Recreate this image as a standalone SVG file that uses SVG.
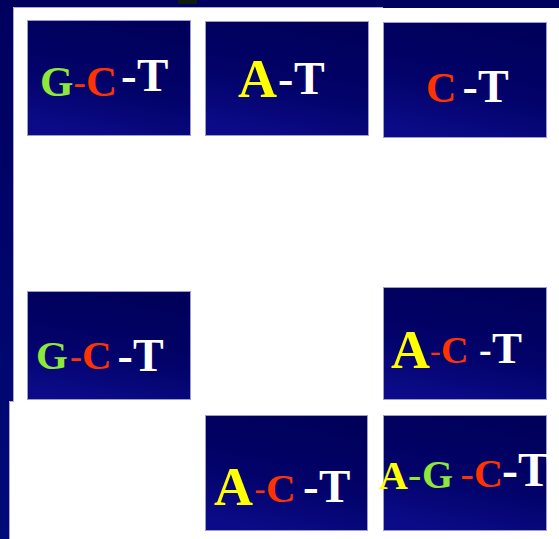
<svg xmlns="http://www.w3.org/2000/svg" width="559" height="539" viewBox="0 0 559 539">
  <defs>
    <linearGradient id="tileGrad" x1="0.65" y1="0" x2="0.35" y2="1">
      <stop offset="0" stop-color="#00005a"/>
      <stop offset="0.55" stop-color="#020269"/>
      <stop offset="1" stop-color="#0b0b88"/>
    </linearGradient>
    <linearGradient id="bgGrad" x1="0" y1="0" x2="0" y2="1">
      <stop offset="0" stop-color="#00005e"/>
      <stop offset="1" stop-color="#000a78"/>
    </linearGradient>
    <style>
      .tile { fill: url(#tileGrad); stroke: #9c9cd2; stroke-width: 1; }
      text { font-family: "Liberation Serif", "Times New Roman", serif; font-weight: bold; }
      .g { fill: #8ee83a; }
      .r { fill: #ff3300; }
      .y { fill: #ffff00; }
      .w { fill: #ffffff; }
      .thin { font-weight: normal; }
      .edge { stroke: #a8a8d8; stroke-width: 1; fill: none; }
    </style>
  </defs>

  <!-- slide background -->
  <rect x="0" y="0" width="559" height="539" fill="url(#bgGrad)"/>
  <rect x="178" y="0" width="19" height="4" fill="#0e1c0c"/>
  <polygon points="13,7 383,7 383,8 559,8 559,539 9,539 9,401 13,401" fill="#ffffff"/>
  <polyline class="edge" points="9.5,539 9.5,401.5 13.5,401.5 13.5,7.5 383,7.5"/>

  <g id="tile1">
    <rect class="tile" x="27.5" y="20.5" width="163" height="115"/>
    <text><tspan class="g" x="40" y="96" font-size="43">G</tspan><tspan class="r thin" x="73.5" y="95" font-size="37">-</tspan><tspan class="r" x="86" y="96" font-size="43">C</tspan><tspan class="w" x="121" y="91" font-size="47">-</tspan><tspan class="w" x="137" y="91" font-size="47">T</tspan></text>
  </g>

  <g id="tile2">
    <rect class="tile" x="205.5" y="21.5" width="163" height="114"/>
    <text><tspan class="y" x="238" y="97" font-size="54">A</tspan><tspan class="w" x="278" y="94" font-size="46">-</tspan><tspan class="w" x="294" y="94" font-size="46">T</tspan></text>
  </g>

  <g id="tile3">
    <rect class="tile" x="383.5" y="22.5" width="163" height="115"/>
    <text><tspan class="r" x="426" y="102" font-size="42">C</tspan><tspan class="w" x="462.5" y="102" font-size="46">-</tspan><tspan class="w" x="478" y="102" font-size="46">T</tspan></text>
  </g>

  <g id="tile4">
    <rect class="tile" x="27.5" y="291.5" width="163" height="108"/>
    <text><tspan class="g" x="36" y="369" font-size="41">G</tspan><tspan class="r thin" x="70" y="368" font-size="36">-</tspan><tspan class="r" x="82" y="369" font-size="41">C</tspan><tspan class="w" x="117.5" y="371" font-size="46">-</tspan><tspan class="w" x="133" y="371" font-size="46">T</tspan></text>
  </g>

  <g id="tile5">
    <rect class="tile" x="383.5" y="287.5" width="163" height="112"/>
    <text><tspan class="y" x="391" y="368" font-size="54">A</tspan><tspan class="r thin" x="430" y="361" font-size="32">-</tspan><tspan class="r" x="441" y="363" font-size="38">C</tspan><tspan class="w" x="479" y="362" font-size="38">-</tspan><tspan class="w" x="492" y="363" font-size="45">T</tspan></text>
  </g>

  <g id="tile6">
    <rect class="tile" x="205.5" y="415.5" width="162" height="115"/>
    <text><tspan class="y" x="214" y="505" font-size="54">A</tspan><tspan class="r thin" x="254.5" y="500" font-size="33">-</tspan><tspan class="r" x="266" y="502" font-size="41">C</tspan><tspan class="w" x="303" y="502" font-size="47">-</tspan><tspan class="w" x="319" y="502" font-size="47">T</tspan></text>
  </g>

  <g id="tile7">
    <rect class="tile" x="383.5" y="415.5" width="163" height="115"/>
    <text><tspan class="y" x="379" y="489" font-size="40">A</tspan><tspan class="g thin" x="408" y="488" font-size="40">-</tspan><tspan class="g" x="422" y="488" font-size="40">G</tspan><tspan class="r thin" x="460.5" y="487" font-size="40">-</tspan><tspan class="r" x="474" y="487" font-size="40">C</tspan><tspan class="w" x="502" y="486" font-size="48">-</tspan><tspan class="w" x="518" y="486" font-size="48">T</tspan></text>
  </g>
</svg>
